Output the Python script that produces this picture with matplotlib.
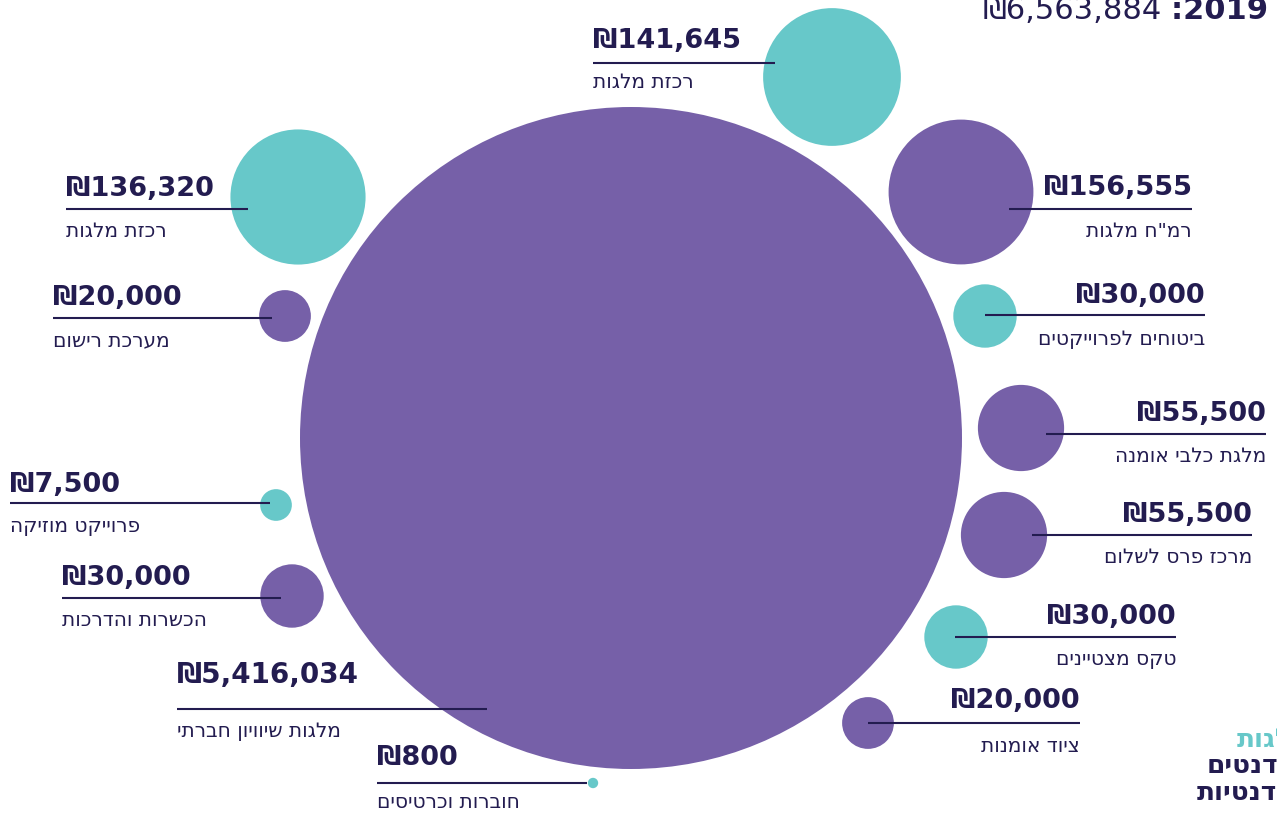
import numpy as np
import matplotlib
matplotlib.use("Agg")
import matplotlib.pyplot as plt
from matplotlib.patches import Circle

# ------------------------------------------------------------------ #
# Data
# ------------------------------------------------------------------ #
labels = [
    "רכזת מלגות",
    "רמ\"ח מלגות",
    "רכזת מלגות",
    "מערכת רישום",
    "ביטוחים לפרוייקטים",
    "מלגת כלבי אומנה",
    "פרוייקט מוזיקה",
    "מרכז פרס לשלום",
    "הכשרות והדרכות",
    "טקס מצטיינים",
    "מלגות שיוויון חברתי",
    "ציוד אומנות",
    "חוברות וכרטיסים",
]
amounts = [141645, 156555, 136320, 20000, 30000, 55500, 7500,
           55500, 30000, 30000, 5416034, 20000, 800]
group = ["b", "a", "b", "a", "b", "a", "b", "a", "a", "b", "a", "a", "b"]

total_year = "2019"
total_amount = 6563884

# ------------------------------------------------------------------ #
# Layout (pixel space, y down)
# ------------------------------------------------------------------ #
cx = [832, 961, 298, 285, 985, 1021, 276, 1004, 292, 956, 631, 868, 593]
cy = [77, 192, 197, 316, 316, 428, 505, 535, 596, 637, 438, 723, 783]
side = ["L", "R", "L", "L", "R", "R", "L", "R", "L", "R", "L", "R", "L"]
text_x = [593, 1192, 66, 53, 1205, 1266, 10, 1252, 62, 1176, 177, 1080, 377]
line_y = [63, 209, 209, 318, 315, 434, 503, 535, 598, 637, 709, 723, 783]
line_end = [775, 1009, 248, 272, 985, 1046, 270, 1032, 281, 955, 487, 868, 587]
amt_gap = [15, 14, 13, 13, 12, 13, 11, 13, 13, 13, 26, 15, 18]
cat_gap = [25, 28, 28, 28, 30, 28, 29, 28, 28, 28, 28, 29, 25]

W, H = 1277, 813
PURPLE = "#7660A8"
TEAL = "#67C8C9"
NAVY = "#231C50"
colors = {"a": PURPLE, "b": TEAL}

# area ~ value, the largest bubble clamped so it fits the page
R_PER_SQRT = 0.183
R_MAX = 331


def rtl(s):
    # matplotlib has no bidi support: reverse Hebrew for display
    return s[::-1]


def fmt(v):
    return "₪" + f"{v:,}"


fig = plt.figure(figsize=(W / 100, H / 100), dpi=100)
ax = fig.add_axes([0, 0, 1, 1])
ax.set_xlim(0, W)
ax.set_ylim(H, 0)
ax.axis("off")

radii = np.minimum(R_PER_SQRT * np.sqrt(amounts), R_MAX)

for i, v in enumerate(amounts):
    ax.add_patch(Circle((cx[i], cy[i]), radii[i], color=colors[group[i]],
                        lw=0, zorder=1))

for i, v in enumerate(amounts):
    ha = "left" if side[i] == "L" else "right"
    big = v == max(amounts)
    ax.text(text_x[i], line_y[i] - amt_gap[i], fmt(v), ha=ha, va="baseline",
            fontsize=20 if big else 19.5, fontweight="bold", color=NAVY,
            family="DejaVu Sans", zorder=3)
    ax.text(text_x[i], line_y[i] + cat_gap[i], rtl(labels[i]), ha=ha,
            va="baseline", fontsize=14.5, color=NAVY, family="DejaVu Sans",
            zorder=3)
    x0, x1 = sorted([text_x[i], line_end[i]])
    ax.plot([x0, x1], [line_y[i], line_y[i]], color=NAVY, lw=1.5,
            solid_capstyle="butt", zorder=2)

# cut-off heading, top right
ax.text(983, 19, "₪" + f"{total_amount:,}", ha="left", va="baseline",
        fontsize=22, color=NAVY, family="DejaVu Sans")
ax.text(1171, 19, ":" + total_year + " " + rtl("תקציב"), ha="left",
        va="baseline", fontsize=22, fontweight="bold", color=NAVY,
        family="DejaVu Sans")

# cut-off side caption, bottom right
ax.text(1237, 747, rtl("מלגות"), ha="left", va="baseline", fontsize=19,
        fontweight="bold", color=TEAL, family="DejaVu Sans")
ax.text(1207, 773, rtl("סטודנטים"), ha="left", va="baseline", fontsize=19,
        fontweight="bold", color=NAVY, family="DejaVu Sans")
ax.text(1197, 800, rtl("סטודנטיות"), ha="left", va="baseline", fontsize=19,
        fontweight="bold", color=NAVY, family="DejaVu Sans")

fig.savefig("out.png", dpi=100)
